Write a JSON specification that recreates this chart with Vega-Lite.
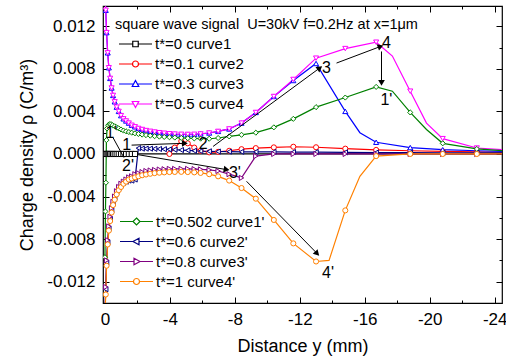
{
"$schema":"https://vega.github.io/schema/vega-lite/v6.json",
"width":399,"height":297,
"autosize":{"type":"none"},
"padding":{"left":103,"top":6,"right":4,"bottom":59},
"config":{"font":"Liberation Sans","view":{"stroke":"#000000","strokeWidth":1.2},
"axis":{"grid":false,"domain":false,"labelColor":"#000","titleColor":"#000","tickColor":"#000","tickWidth":1,"titleFontWeight":"normal"},
"legend":{"padding":0,"labelColor":"#000","titleColor":"#000","titleFontWeight":"normal","labelFontSize":15,"titleFontSize":14.5,"labelLimit":300,"titleLimit":420}},
"datasets":{
"curves":[
{"c":"t*=0 curve1","x":0,"y":0},{"c":"t*=0 curve1","x":-0.05,"y":0},{"c":"t*=0 curve1","x":-0.1,"y":0},{"c":"t*=0 curve1","x":-0.17,"y":0},{"c":"t*=0 curve1","x":-0.24,"y":0},{"c":"t*=0 curve1","x":-0.32,"y":0},{"c":"t*=0 curve1","x":-0.41,"y":0},{"c":"t*=0 curve1","x":-0.5,"y":0},{"c":"t*=0 curve1","x":-0.6,"y":0},{"c":"t*=0 curve1","x":-0.72,"y":0},{"c":"t*=0 curve1","x":-0.85,"y":0},{"c":"t*=0 curve1","x":-0.99,"y":0},{"c":"t*=0 curve1","x":-1.14,"y":0},{"c":"t*=0 curve1","x":-1.3,"y":0},{"c":"t*=0 curve1","x":-1.47,"y":0},{"c":"t*=0 curve1","x":-1.65,"y":0},{"c":"t*=0 curve1","x":-1.85,"y":0},{"c":"t*=0 curve1","x":-24.5,"y":0},
{"c":"t*=0.1 curve2","x":-3.97,"y":0},{"c":"t*=0.1 curve2","x":-4.3,"y":0.0006},{"c":"t*=0.1 curve2","x":-4.7,"y":0.0012},{"c":"t*=0.1 curve2","x":-5.1,"y":0.001},{"c":"t*=0.1 curve2","x":-5.5,"y":0.0006},{"c":"t*=0.1 curve2","x":-5.89,"y":0.0003},{"c":"t*=0.1 curve2","x":-6.42,"y":0.00015},{"c":"t*=0.1 curve2","x":-6.97,"y":0.0002},{"c":"t*=0.1 curve2","x":-7.65,"y":0.0003},{"c":"t*=0.1 curve2","x":-8.41,"y":0.00045},{"c":"t*=0.1 curve2","x":-9.29,"y":0.00055},{"c":"t*=0.1 curve2","x":-10.4,"y":0.00062},{"c":"t*=0.1 curve2","x":-11.6,"y":0.00068},{"c":"t*=0.1 curve2","x":-13.0,"y":0.00063},{"c":"t*=0.1 curve2","x":-14.8,"y":0.0005},{"c":"t*=0.1 curve2","x":-16.7,"y":0.00038},{"c":"t*=0.1 curve2","x":-18.8,"y":0.0003},{"c":"t*=0.1 curve2","x":-20.8,"y":0.00025},{"c":"t*=0.1 curve2","x":-22.9,"y":0.00019},{"c":"t*=0.1 curve2","x":-24.5,"y":0.00016},
{"c":"t*=0.3 curve3","x":0,"y":0.015},{"c":"t*=0.3 curve3","x":-0.05,"y":0.0135},{"c":"t*=0.3 curve3","x":-0.1,"y":0.0114},{"c":"t*=0.3 curve3","x":-0.17,"y":0.0095},{"c":"t*=0.3 curve3","x":-0.24,"y":0.0081},{"c":"t*=0.3 curve3","x":-0.32,"y":0.0071},{"c":"t*=0.3 curve3","x":-0.41,"y":0.0062},{"c":"t*=0.3 curve3","x":-0.5,"y":0.0055},{"c":"t*=0.3 curve3","x":-0.6,"y":0.0049},{"c":"t*=0.3 curve3","x":-0.72,"y":0.0044},{"c":"t*=0.3 curve3","x":-0.85,"y":0.004},{"c":"t*=0.3 curve3","x":-0.99,"y":0.0036},{"c":"t*=0.3 curve3","x":-1.14,"y":0.0033},{"c":"t*=0.3 curve3","x":-1.3,"y":0.0031},{"c":"t*=0.3 curve3","x":-1.47,"y":0.0029},{"c":"t*=0.3 curve3","x":-1.65,"y":0.0027},{"c":"t*=0.3 curve3","x":-1.85,"y":0.00255},{"c":"t*=0.3 curve3","x":-2.06,"y":0.0024},{"c":"t*=0.3 curve3","x":-2.29,"y":0.0023},{"c":"t*=0.3 curve3","x":-2.53,"y":0.0022},{"c":"t*=0.3 curve3","x":-2.79,"y":0.00213},{"c":"t*=0.3 curve3","x":-3.06,"y":0.00206},{"c":"t*=0.3 curve3","x":-3.35,"y":0.002},{"c":"t*=0.3 curve3","x":-3.65,"y":0.00195},{"c":"t*=0.3 curve3","x":-3.97,"y":0.0019},{"c":"t*=0.3 curve3","x":-4.3,"y":0.00187},{"c":"t*=0.3 curve3","x":-4.7,"y":0.00185},{"c":"t*=0.3 curve3","x":-5.1,"y":0.00184},{"c":"t*=0.3 curve3","x":-5.5,"y":0.00185},{"c":"t*=0.3 curve3","x":-5.89,"y":0.00188},{"c":"t*=0.3 curve3","x":-6.42,"y":0.00197},{"c":"t*=0.3 curve3","x":-6.97,"y":0.00212},{"c":"t*=0.3 curve3","x":-7.65,"y":0.00235},{"c":"t*=0.3 curve3","x":-8.41,"y":0.0029},{"c":"t*=0.3 curve3","x":-9.29,"y":0.0039},{"c":"t*=0.3 curve3","x":-10.4,"y":0.0054},{"c":"t*=0.3 curve3","x":-11.6,"y":0.0069},{"c":"t*=0.3 curve3","x":-13.0,"y":0.0085},{"c":"t*=0.3 curve3","x":-14.8,"y":0.004},{"c":"t*=0.3 curve3","x":-15.7,"y":0.002},{"c":"t*=0.3 curve3","x":-16.7,"y":0.0011},{"c":"t*=0.3 curve3","x":-18.8,"y":0.0006},{"c":"t*=0.3 curve3","x":-20.8,"y":0.0004},{"c":"t*=0.3 curve3","x":-22.9,"y":0.0003},{"c":"t*=0.3 curve3","x":-24.5,"y":0.00025},
{"c":"t*=0.5 curve4","x":0,"y":0.015},{"c":"t*=0.5 curve4","x":-0.05,"y":0.0135},{"c":"t*=0.5 curve4","x":-0.1,"y":0.0114},{"c":"t*=0.5 curve4","x":-0.17,"y":0.0095},{"c":"t*=0.5 curve4","x":-0.24,"y":0.0081},{"c":"t*=0.5 curve4","x":-0.32,"y":0.0071},{"c":"t*=0.5 curve4","x":-0.41,"y":0.0062},{"c":"t*=0.5 curve4","x":-0.5,"y":0.0055},{"c":"t*=0.5 curve4","x":-0.6,"y":0.0049},{"c":"t*=0.5 curve4","x":-0.72,"y":0.0044},{"c":"t*=0.5 curve4","x":-0.85,"y":0.004},{"c":"t*=0.5 curve4","x":-0.99,"y":0.0036},{"c":"t*=0.5 curve4","x":-1.14,"y":0.0033},{"c":"t*=0.5 curve4","x":-1.3,"y":0.0031},{"c":"t*=0.5 curve4","x":-1.47,"y":0.0029},{"c":"t*=0.5 curve4","x":-1.65,"y":0.0027},{"c":"t*=0.5 curve4","x":-1.85,"y":0.00255},{"c":"t*=0.5 curve4","x":-2.06,"y":0.0024},{"c":"t*=0.5 curve4","x":-2.29,"y":0.0023},{"c":"t*=0.5 curve4","x":-2.53,"y":0.0022},{"c":"t*=0.5 curve4","x":-2.79,"y":0.00213},{"c":"t*=0.5 curve4","x":-3.06,"y":0.00206},{"c":"t*=0.5 curve4","x":-3.35,"y":0.002},{"c":"t*=0.5 curve4","x":-3.65,"y":0.00195},{"c":"t*=0.5 curve4","x":-3.97,"y":0.0019},{"c":"t*=0.5 curve4","x":-4.3,"y":0.00187},{"c":"t*=0.5 curve4","x":-4.7,"y":0.00185},{"c":"t*=0.5 curve4","x":-5.1,"y":0.00184},{"c":"t*=0.5 curve4","x":-5.5,"y":0.00185},{"c":"t*=0.5 curve4","x":-5.89,"y":0.00188},{"c":"t*=0.5 curve4","x":-6.42,"y":0.00197},{"c":"t*=0.5 curve4","x":-6.97,"y":0.00212},{"c":"t*=0.5 curve4","x":-7.65,"y":0.00235},{"c":"t*=0.5 curve4","x":-8.41,"y":0.0029},{"c":"t*=0.5 curve4","x":-9.29,"y":0.0039},{"c":"t*=0.5 curve4","x":-10.4,"y":0.0054},{"c":"t*=0.5 curve4","x":-11.6,"y":0.007},{"c":"t*=0.5 curve4","x":-13.0,"y":0.009},{"c":"t*=0.5 curve4","x":-14.8,"y":0.0099},{"c":"t*=0.5 curve4","x":-16.7,"y":0.0105},{"c":"t*=0.5 curve4","x":-17.7,"y":0.0092},{"c":"t*=0.5 curve4","x":-18.8,"y":0.0059},{"c":"t*=0.5 curve4","x":-19.8,"y":0.0029},{"c":"t*=0.5 curve4","x":-20.8,"y":0.00144},{"c":"t*=0.5 curve4","x":-22.9,"y":0.00056},{"c":"t*=0.5 curve4","x":-24.5,"y":0.0004},
{"c":"t*=0.502 curve1'","x":0,"y":-0.0097},{"c":"t*=0.502 curve1'","x":-0.03,"y":-0.0054},{"c":"t*=0.502 curve1'","x":-0.06,"y":-0.0027},{"c":"t*=0.502 curve1'","x":-0.09,"y":0.0013},{"c":"t*=0.502 curve1'","x":-0.13,"y":0.0024},{"c":"t*=0.502 curve1'","x":-0.2,"y":0.0027},{"c":"t*=0.502 curve1'","x":-0.28,"y":0.0028},{"c":"t*=0.502 curve1'","x":-0.37,"y":0.0028},{"c":"t*=0.502 curve1'","x":-0.47,"y":0.0027},{"c":"t*=0.502 curve1'","x":-0.6,"y":0.0026},{"c":"t*=0.502 curve1'","x":-0.72,"y":0.0025},{"c":"t*=0.502 curve1'","x":-0.85,"y":0.0024},{"c":"t*=0.502 curve1'","x":-0.99,"y":0.0023},{"c":"t*=0.502 curve1'","x":-1.14,"y":0.0022},{"c":"t*=0.502 curve1'","x":-1.3,"y":0.00213},{"c":"t*=0.502 curve1'","x":-1.47,"y":0.00206},{"c":"t*=0.502 curve1'","x":-1.65,"y":0.002},{"c":"t*=0.502 curve1'","x":-1.85,"y":0.00194},{"c":"t*=0.502 curve1'","x":-2.06,"y":0.00188},{"c":"t*=0.502 curve1'","x":-2.29,"y":0.00182},{"c":"t*=0.502 curve1'","x":-2.53,"y":0.00177},{"c":"t*=0.502 curve1'","x":-2.79,"y":0.00172},{"c":"t*=0.502 curve1'","x":-3.06,"y":0.00167},{"c":"t*=0.502 curve1'","x":-3.35,"y":0.00163},{"c":"t*=0.502 curve1'","x":-3.65,"y":0.0016},{"c":"t*=0.502 curve1'","x":-3.97,"y":0.00157},{"c":"t*=0.502 curve1'","x":-4.3,"y":0.00154},{"c":"t*=0.502 curve1'","x":-4.7,"y":0.00151},{"c":"t*=0.502 curve1'","x":-5.1,"y":0.00148},{"c":"t*=0.502 curve1'","x":-5.5,"y":0.00146},{"c":"t*=0.502 curve1'","x":-5.89,"y":0.00144},{"c":"t*=0.502 curve1'","x":-6.42,"y":0.00143},{"c":"t*=0.502 curve1'","x":-6.97,"y":0.0015},{"c":"t*=0.502 curve1'","x":-7.65,"y":0.00165},{"c":"t*=0.502 curve1'","x":-8.41,"y":0.0018},{"c":"t*=0.502 curve1'","x":-9.29,"y":0.002},{"c":"t*=0.502 curve1'","x":-10.4,"y":0.0025},{"c":"t*=0.502 curve1'","x":-11.6,"y":0.0033},{"c":"t*=0.502 curve1'","x":-13.0,"y":0.0044},{"c":"t*=0.502 curve1'","x":-14.8,"y":0.0053},{"c":"t*=0.502 curve1'","x":-16.7,"y":0.0063},{"c":"t*=0.502 curve1'","x":-17.7,"y":0.0059},{"c":"t*=0.502 curve1'","x":-18.8,"y":0.0039},{"c":"t*=0.502 curve1'","x":-19.8,"y":0.0023},{"c":"t*=0.502 curve1'","x":-20.8,"y":0.001},{"c":"t*=0.502 curve1'","x":-22.9,"y":0.00047},{"c":"t*=0.502 curve1'","x":-24.5,"y":0.0003},
{"c":"t*=0.6 curve2'","x":0,"y":-0.015},{"c":"t*=0.6 curve2'","x":-0.05,"y":-0.0127},{"c":"t*=0.6 curve2'","x":-0.1,"y":-0.0102},{"c":"t*=0.6 curve2'","x":-0.17,"y":-0.0083},{"c":"t*=0.6 curve2'","x":-0.24,"y":-0.007},{"c":"t*=0.6 curve2'","x":-0.32,"y":-0.0061},{"c":"t*=0.6 curve2'","x":-0.41,"y":-0.0053},{"c":"t*=0.6 curve2'","x":-0.5,"y":-0.0046},{"c":"t*=0.6 curve2'","x":-0.6,"y":-0.0041},{"c":"t*=0.6 curve2'","x":-0.72,"y":-0.0036},{"c":"t*=0.6 curve2'","x":-0.85,"y":-0.0032},{"c":"t*=0.6 curve2'","x":-0.99,"y":-0.0029},{"c":"t*=0.6 curve2'","x":-1.14,"y":-0.0027},{"c":"t*=0.6 curve2'","x":-1.3,"y":-0.0026},{"c":"t*=0.6 curve2'","x":-1.47,"y":-0.0025},{"c":"t*=0.6 curve2'","x":-1.65,"y":-0.0025},{"c":"t*=0.6 curve2'","x":-1.85,"y":-0.0024},{"c":"t*=0.6 curve2'","x":-2.06,"y":0.00055},{"c":"t*=0.6 curve2'","x":-2.29,"y":0.0005},{"c":"t*=0.6 curve2'","x":-2.53,"y":0.0005},{"c":"t*=0.6 curve2'","x":-2.79,"y":0.0005},{"c":"t*=0.6 curve2'","x":-3.06,"y":0.00048},{"c":"t*=0.6 curve2'","x":-3.35,"y":0.00047},{"c":"t*=0.6 curve2'","x":-3.65,"y":0.00045},{"c":"t*=0.6 curve2'","x":-3.97,"y":0.00043},{"c":"t*=0.6 curve2'","x":-4.3,"y":0.0004},{"c":"t*=0.6 curve2'","x":-4.7,"y":0.00037},{"c":"t*=0.6 curve2'","x":-5.1,"y":0.00034},{"c":"t*=0.6 curve2'","x":-5.5,"y":0.0003},{"c":"t*=0.6 curve2'","x":-5.89,"y":0.00027},{"c":"t*=0.6 curve2'","x":-6.42,"y":0.00025},{"c":"t*=0.6 curve2'","x":-6.97,"y":0.00023},{"c":"t*=0.6 curve2'","x":-7.65,"y":0.00022},{"c":"t*=0.6 curve2'","x":-8.41,"y":0.0002},{"c":"t*=0.6 curve2'","x":-9.29,"y":0.0002},{"c":"t*=0.6 curve2'","x":-10.4,"y":0.00019},{"c":"t*=0.6 curve2'","x":-11.6,"y":0.00018},{"c":"t*=0.6 curve2'","x":-13.0,"y":0.00017},{"c":"t*=0.6 curve2'","x":-14.8,"y":0.00015},{"c":"t*=0.6 curve2'","x":-16.7,"y":0.00013},{"c":"t*=0.6 curve2'","x":-18.8,"y":0.00012},{"c":"t*=0.6 curve2'","x":-20.8,"y":0.0001},{"c":"t*=0.6 curve2'","x":-22.9,"y":0.0001},{"c":"t*=0.6 curve2'","x":-24.5,"y":0.0001},
{"c":"t*=0.8 curve3'","x":0,"y":-0.015},{"c":"t*=0.8 curve3'","x":-0.05,"y":-0.0125},{"c":"t*=0.8 curve3'","x":-0.1,"y":-0.01},{"c":"t*=0.8 curve3'","x":-0.17,"y":-0.0081},{"c":"t*=0.8 curve3'","x":-0.24,"y":-0.0068},{"c":"t*=0.8 curve3'","x":-0.32,"y":-0.0059},{"c":"t*=0.8 curve3'","x":-0.41,"y":-0.0051},{"c":"t*=0.8 curve3'","x":-0.5,"y":-0.0045},{"c":"t*=0.8 curve3'","x":-0.6,"y":-0.004},{"c":"t*=0.8 curve3'","x":-0.72,"y":-0.0035},{"c":"t*=0.8 curve3'","x":-0.85,"y":-0.0031},{"c":"t*=0.8 curve3'","x":-0.99,"y":-0.0028},{"c":"t*=0.8 curve3'","x":-1.14,"y":-0.0026},{"c":"t*=0.8 curve3'","x":-1.3,"y":-0.0024},{"c":"t*=0.8 curve3'","x":-1.47,"y":-0.0022},{"c":"t*=0.8 curve3'","x":-1.65,"y":-0.0021},{"c":"t*=0.8 curve3'","x":-1.85,"y":-0.0019},{"c":"t*=0.8 curve3'","x":-2.06,"y":-0.0018},{"c":"t*=0.8 curve3'","x":-2.29,"y":-0.0017},{"c":"t*=0.8 curve3'","x":-2.53,"y":-0.0016},{"c":"t*=0.8 curve3'","x":-2.79,"y":-0.00155},{"c":"t*=0.8 curve3'","x":-3.06,"y":-0.0015},{"c":"t*=0.8 curve3'","x":-3.35,"y":-0.00146},{"c":"t*=0.8 curve3'","x":-3.65,"y":-0.00143},{"c":"t*=0.8 curve3'","x":-3.97,"y":-0.0014},{"c":"t*=0.8 curve3'","x":-4.3,"y":-0.0014},{"c":"t*=0.8 curve3'","x":-4.7,"y":-0.0014},{"c":"t*=0.8 curve3'","x":-5.1,"y":-0.0014},{"c":"t*=0.8 curve3'","x":-5.5,"y":-0.00142},{"c":"t*=0.8 curve3'","x":-5.89,"y":-0.00145},{"c":"t*=0.8 curve3'","x":-6.42,"y":-0.0015},{"c":"t*=0.8 curve3'","x":-6.97,"y":-0.0016},{"c":"t*=0.8 curve3'","x":-7.65,"y":-0.0019},{"c":"t*=0.8 curve3'","x":-8.41,"y":-0.00225},{"c":"t*=0.8 curve3'","x":-9.29,"y":-0.0002},{"c":"t*=0.8 curve3'","x":-10.4,"y":0},{"c":"t*=0.8 curve3'","x":-11.6,"y":0},{"c":"t*=0.8 curve3'","x":-13.0,"y":0},{"c":"t*=0.8 curve3'","x":-14.8,"y":0},{"c":"t*=0.8 curve3'","x":-16.7,"y":0},{"c":"t*=0.8 curve3'","x":-18.8,"y":0},{"c":"t*=0.8 curve3'","x":-20.8,"y":0},{"c":"t*=0.8 curve3'","x":-22.9,"y":0},{"c":"t*=0.8 curve3'","x":-24.5,"y":0},
{"c":"t*=1 curve4'","x":0,"y":-0.015},{"c":"t*=1 curve4'","x":-0.05,"y":-0.0132},{"c":"t*=1 curve4'","x":-0.1,"y":-0.0105},{"c":"t*=1 curve4'","x":-0.17,"y":-0.0085},{"c":"t*=1 curve4'","x":-0.24,"y":-0.0072},{"c":"t*=1 curve4'","x":-0.32,"y":-0.0063},{"c":"t*=1 curve4'","x":-0.41,"y":-0.0055},{"c":"t*=1 curve4'","x":-0.5,"y":-0.0048},{"c":"t*=1 curve4'","x":-0.6,"y":-0.0043},{"c":"t*=1 curve4'","x":-0.72,"y":-0.0038},{"c":"t*=1 curve4'","x":-0.85,"y":-0.0034},{"c":"t*=1 curve4'","x":-0.99,"y":-0.0031},{"c":"t*=1 curve4'","x":-1.14,"y":-0.0028},{"c":"t*=1 curve4'","x":-1.3,"y":-0.0026},{"c":"t*=1 curve4'","x":-1.47,"y":-0.0024},{"c":"t*=1 curve4'","x":-1.65,"y":-0.0023},{"c":"t*=1 curve4'","x":-1.85,"y":-0.0022},{"c":"t*=1 curve4'","x":-2.06,"y":-0.0021},{"c":"t*=1 curve4'","x":-2.29,"y":-0.002},{"c":"t*=1 curve4'","x":-2.53,"y":-0.00193},{"c":"t*=1 curve4'","x":-2.79,"y":-0.00186},{"c":"t*=1 curve4'","x":-3.06,"y":-0.0018},{"c":"t*=1 curve4'","x":-3.35,"y":-0.00176},{"c":"t*=1 curve4'","x":-3.65,"y":-0.00173},{"c":"t*=1 curve4'","x":-3.97,"y":-0.0017},{"c":"t*=1 curve4'","x":-4.3,"y":-0.00169},{"c":"t*=1 curve4'","x":-4.7,"y":-0.00168},{"c":"t*=1 curve4'","x":-5.1,"y":-0.0017},{"c":"t*=1 curve4'","x":-5.5,"y":-0.00173},{"c":"t*=1 curve4'","x":-5.89,"y":-0.00178},{"c":"t*=1 curve4'","x":-6.42,"y":-0.0019},{"c":"t*=1 curve4'","x":-6.97,"y":-0.0021},{"c":"t*=1 curve4'","x":-7.65,"y":-0.0025},{"c":"t*=1 curve4'","x":-8.41,"y":-0.0032},{"c":"t*=1 curve4'","x":-9.29,"y":-0.0042},{"c":"t*=1 curve4'","x":-10.4,"y":-0.0062},{"c":"t*=1 curve4'","x":-11.6,"y":-0.0084},{"c":"t*=1 curve4'","x":-13.0,"y":-0.0101},{"c":"t*=1 curve4'","x":-13.8,"y":-0.01},{"c":"t*=1 curve4'","x":-14.8,"y":-0.0053},{"c":"t*=1 curve4'","x":-15.7,"y":-0.0021},{"c":"t*=1 curve4'","x":-16.7,"y":-0.0002},{"c":"t*=1 curve4'","x":-18.8,"y":0},{"c":"t*=1 curve4'","x":-20.8,"y":0},{"c":"t*=1 curve4'","x":-22.9,"y":0},{"c":"t*=1 curve4'","x":-24.5,"y":0}
],
"ann":[
{"t":"1","x":-1.34,"y":0.00087},{"t":"2","x":-6.05,"y":0.00095},{"t":"3","x":-13.64,"y":0.0081},{"t":"4","x":-17.33,"y":0.01042},{"t":"1'","x":-17.33,"y":0.0051},{"t":"1'","x":-0.4,"y":0.00195},{"t":"2'","x":-1.42,"y":-0.00115},{"t":"3'","x":-8.0,"y":-0.00178},{"t":"4'","x":-13.74,"y":-0.01117}
],
"arrows":[
{"x":-1.64,"y":0.00083,"x2":-4.92,"y2":0.001,"dir":-1},
{"x":-6.66,"y":0.00071,"x2":-13.23,"y2":0.00808,"dir":-36},
{"x":-14.26,"y":0.00854,"x2":-16.97,"y2":0.0101,"dir":-21},
{"x":-17.03,"y":0.00963,"x2":-17.03,"y2":0.00667,"dir":90},
{"x":-0.51,"y":0.0015,"x2":-1.17,"y2":-0.00034,"dir":null},
{"x":-2.05,"y":-0.00007,"x2":-7.49,"y2":-0.00147,"dir":10},
{"x":-8.72,"y":-0.00257,"x2":-13.07,"y2":-0.00936,"dir":46}
]
},
"layer":[
{"data":{"name":"curves"},
 "transform":[{"filter":{"field":"c","oneOf":["t*=0 curve1","t*=0.1 curve2","t*=0.3 curve3","t*=0.5 curve4"]}}],
 "encoding":{
  "x":{"field":"x","type":"quantitative","scale":{"domain":[-24.45,0.12],"reverse":true,"nice":false,"zero":false},"axis":null},
  "y":{"field":"y","type":"quantitative","scale":{"domain":[-0.014,0.0139],"nice":false,"zero":false},"axis":null},
  "stroke":{"field":"c","type":"nominal","sort":null,"scale":{"domain":["t*=0 curve1","t*=0.1 curve2","t*=0.3 curve3","t*=0.5 curve4"],"range":["#000000","#ff0000","#0000ff","#ff00ff"]},
   "legend":{"orient":"top-left","offset":12,"title":"square wave signal\u00a0 U=30kV f=0.2Hz at x=1μm","symbolSize":100,"symbolOffset":13,"labelOffset":12,"rowPadding":4,"titlePadding":4,"symbolStrokeWidth":1.2,"symbolOpacity":1}}
 },
 "layer":[
  {"mark":{"type":"line","strokeWidth":1.2,"clip":true}},
  {"transform":[{"filter":"datum.x == -24.5"}],
   "mark":{"type":"point","fill":"#ffffff","fillOpacity":1,"opacity":0,"strokeWidth":1.2,"clip":true},
   "encoding":{"shape":{"field":"c","type":"nominal","scale":{"domain":["t*=0 curve1","t*=0.1 curve2","t*=0.3 curve3","t*=0.5 curve4"],"range":["M-3.3,0H-0.55M0.55,0H3.3M-0.55,-0.55H0.55V0.55H-0.55Z","M-3.3,0H-0.6M0.6,0H3.3M-0.6,0A0.6,0.6,0,1,0,0.6,0A0.6,0.6,0,1,0,-0.6,0Z","M-3.3,0H-0.45M0.45,0H3.3M0,-0.7L0.65,0.5L-0.65,0.5Z","M-3.3,0H-0.45M0.45,0H3.3M0,0.7L0.65,-0.5L-0.65,-0.5Z"]},"legend":null}}}
 ]
},
{"data":{"name":"curves"},
 "transform":[{"filter":{"field":"c","oneOf":["t*=0.502 curve1'","t*=0.6 curve2'","t*=0.8 curve3'","t*=1 curve4'"]}}],
 "encoding":{
  "x":{"field":"x","type":"quantitative","scale":{"domain":[-24.45,0.12],"reverse":true,"nice":false,"zero":false},"axis":null},
  "y":{"field":"y","type":"quantitative","scale":{"domain":[-0.014,0.0139],"nice":false,"zero":false},"axis":null},
  "stroke":{"field":"c","type":"nominal","sort":null,"scale":{"domain":["t*=0.502 curve1'","t*=0.6 curve2'","t*=0.8 curve3'","t*=1 curve4'"],"range":["#008000","#000080","#800080","#ff8000"]},
   "legend":{"orient":"bottom-left","offset":13,"title":null,"symbolSize":100,"symbolOffset":13,"labelOffset":12,"rowPadding":4,"symbolStrokeWidth":1.2,"symbolOpacity":1}}
 },
 "layer":[
  {"mark":{"type":"line","strokeWidth":1.2,"clip":true}},
  {"transform":[{"filter":"datum.x == -24.5"}],
   "mark":{"type":"point","fill":"#ffffff","fillOpacity":1,"opacity":0,"strokeWidth":1.2,"clip":true},
   "encoding":{"shape":{"field":"c","type":"nominal","scale":{"domain":["t*=0.502 curve1'","t*=0.6 curve2'","t*=0.8 curve3'","t*=1 curve4'"],"range":["M-3.3,0H-0.7M0.7,0H3.3M0,-0.7L0.7,0L0,0.7L-0.7,0Z","M-3.3,0H-0.7M0.5,0H3.3M-0.7,0L0.5,-0.65L0.5,0.65Z","M-3.3,0H-0.5M0.7,0H3.3M0.7,0L-0.5,-0.65L-0.5,0.65Z","M-3.3,0H-0.6M0.6,0H3.3M-0.6,0A0.6,0.6,0,1,0,0.6,0A0.6,0.6,0,1,0,-0.6,0Z"]},"legend":null}}}
 ]
},
{"data":{"name":"curves"},
 "transform":[{"filter":{"field":"c","oneOf":["t*=0 curve1","t*=0.1 curve2","t*=0.3 curve3","t*=0.5 curve4"]}},{"filter":"indexof([-24.5,-17.7,-19.8,-13.8,-15.7], datum.x) < 0"}],
 "mark":{"type":"point","fill":"#ffffff","fillOpacity":1,"opacity":1,"strokeWidth":1,"size":26,"clip":true},
 "encoding":{
  "x":{"field":"x","type":"quantitative","scale":{"domain":[-24.45,0.12],"reverse":true,"nice":false,"zero":false},"axis":null},
  "y":{"field":"y","type":"quantitative","scale":{"domain":[-0.014,0.0139],"nice":false,"zero":false},"axis":null},
  "stroke":{"field":"c","type":"nominal","sort":null,"scale":{"domain":["t*=0 curve1","t*=0.1 curve2","t*=0.3 curve3","t*=0.5 curve4"],"range":["#000000","#ff0000","#0000ff","#ff00ff"]},"legend":null},
  "shape":{"field":"c","type":"nominal","scale":{"domain":["t*=0 curve1","t*=0.1 curve2","t*=0.3 curve3","t*=0.5 curve4"],"range":["square","circle","triangle-up","triangle-down"]},"legend":null}}
},
{"data":{"name":"curves"},
 "transform":[{"filter":{"field":"c","oneOf":["t*=0.502 curve1'","t*=0.6 curve2'","t*=0.8 curve3'","t*=1 curve4'"]}},{"filter":"indexof([-24.5,-17.7,-19.8,-13.8,-15.7], datum.x) < 0"}],
 "mark":{"type":"point","fill":"#ffffff","fillOpacity":1,"opacity":1,"strokeWidth":1,"size":26,"clip":true},
 "encoding":{
  "x":{"field":"x","type":"quantitative","scale":{"domain":[-24.45,0.12],"reverse":true,"nice":false,"zero":false},"axis":null},
  "y":{"field":"y","type":"quantitative","scale":{"domain":[-0.014,0.0139],"nice":false,"zero":false},"axis":null},
  "stroke":{"field":"c","type":"nominal","sort":null,"scale":{"domain":["t*=0.502 curve1'","t*=0.6 curve2'","t*=0.8 curve3'","t*=1 curve4'"],"range":["#008000","#000080","#800080","#ff8000"]},"legend":null},
  "shape":{"field":"c","type":"nominal","scale":{"domain":["t*=0.502 curve1'","t*=0.6 curve2'","t*=0.8 curve3'","t*=1 curve4'"],"range":["diamond","triangle-left","triangle-right","circle"]},"legend":null}}
},
{"data":{"name":"arrows"},
 "mark":{"type":"rule","color":"#000000","strokeWidth":1},
 "encoding":{
  "x":{"field":"x","type":"quantitative","scale":{"domain":[-24.45,0.12],"reverse":true,"nice":false,"zero":false},"axis":null},
  "y":{"field":"y","type":"quantitative","scale":{"domain":[-0.014,0.0139],"nice":false,"zero":false},"axis":null},
  "x2":{"field":"x2"},"y2":{"field":"y2"}}},
{"data":{"name":"arrows"},
 "transform":[{"filter":"datum.dir != null"}],
 "mark":{"type":"point","shape":"triangle-right","filled":true,"color":"#000000","opacity":1,"size":45},
 "encoding":{
  "x":{"field":"x2","type":"quantitative","scale":{"domain":[-24.45,0.12],"reverse":true,"nice":false,"zero":false},"axis":null},
  "y":{"field":"y2","type":"quantitative","scale":{"domain":[-0.014,0.0139],"nice":false,"zero":false},"axis":null},
  "angle":{"field":"dir","type":"quantitative","scale":null}}},
{"data":{"name":"ann"},
 "mark":{"type":"text","fontSize":16,"color":"#000000","align":"center","baseline":"middle"},
 "encoding":{
  "x":{"field":"x","type":"quantitative","scale":{"domain":[-24.45,0.12],"reverse":true,"nice":false,"zero":false},"axis":null},
  "y":{"field":"y","type":"quantitative","scale":{"domain":[-0.014,0.0139],"nice":false,"zero":false},"axis":null},
  "text":{"field":"t"}}},
{"data":{"name":"ann"},
 "mark":{"type":"point","opacity":0},
 "encoding":{
  "x":{"field":"x","type":"quantitative","scale":{"domain":[-24.45,0.12],"reverse":true,"nice":false,"zero":false},
   "axis":{"orient":"bottom","values":[0,-4,-8,-12,-16,-20,-24],"ticks":false,"labelExpr":"replace(format(datum.value,'d'),'\u2212','-')","labelFontSize":17,"labelPadding":8,"title":"Distance y (mm)","titleFontSize":18,"titlePadding":10}},
  "y":{"field":"y","type":"quantitative","scale":{"domain":[-0.014,0.0139],"nice":false,"zero":false},
   "axis":{"orient":"left","values":[-0.012,-0.008,-0.004,0,0.004,0.008,0.012],"ticks":false,"labelExpr":"replace(format(datum.value,'.3f'),'\u2212','-')","labelFontSize":17,"labelPadding":8,"title":"Charge density ρ (C/m³)","titleFontSize":18,"titlePadding":10}}}},
{"data":{"name":"ann"},
 "mark":{"type":"point","opacity":0},
 "encoding":{
  "x":{"field":"x","type":"quantitative","scale":{"domain":[-24.45,0.12],"reverse":true,"nice":false,"zero":false},
   "axis":{"orient":"bottom","values":[0,-4,-8,-12,-16,-20,-24],"labels":false,"tickSize":-6,"title":null}},
  "y":{"field":"y","type":"quantitative","scale":{"domain":[-0.014,0.0139],"nice":false,"zero":false},
   "axis":{"orient":"left","values":[-0.012,-0.008,-0.004,0,0.004,0.008,0.012],"labels":false,"tickSize":-6,"title":null}}}},
{"data":{"name":"ann"},
 "mark":{"type":"point","opacity":0},
 "encoding":{
  "x":{"field":"x","type":"quantitative","scale":{"domain":[-24.45,0.12],"reverse":true,"nice":false,"zero":false},
   "axis":{"orient":"bottom","values":[-2,-6,-10,-14,-18,-22],"labels":false,"tickSize":-3,"title":null}},
  "y":{"field":"y","type":"quantitative","scale":{"domain":[-0.014,0.0139],"nice":false,"zero":false},
   "axis":{"orient":"left","values":[-0.01,-0.006,-0.002,0.002,0.006,0.01],"labels":false,"tickSize":-3,"title":null}}}},
{"data":{"name":"ann"},
 "mark":{"type":"point","opacity":0},
 "encoding":{
  "x":{"field":"x","type":"quantitative","scale":{"domain":[-24.45,0.12],"reverse":true,"nice":false,"zero":false},
   "axis":{"orient":"top","values":[0,-4,-8,-12,-16,-20,-24],"labels":false,"tickSize":-6,"title":null}},
  "y":{"field":"y","type":"quantitative","scale":{"domain":[-0.014,0.0139],"nice":false,"zero":false},
   "axis":{"orient":"right","values":[-0.012,-0.008,-0.004,0,0.004,0.008,0.012],"labels":false,"tickSize":-6,"title":null}}}},
{"data":{"name":"ann"},
 "mark":{"type":"point","opacity":0},
 "encoding":{
  "x":{"field":"x","type":"quantitative","scale":{"domain":[-24.45,0.12],"reverse":true,"nice":false,"zero":false},
   "axis":{"orient":"top","values":[-2,-6,-10,-14,-18,-22],"labels":false,"tickSize":-3,"title":null}},
  "y":{"field":"y","type":"quantitative","scale":{"domain":[-0.014,0.0139],"nice":false,"zero":false},
   "axis":{"orient":"right","values":[-0.01,-0.006,-0.002,0.002,0.006,0.01],"labels":false,"tickSize":-3,"title":null}}}}
],
"resolve":{"scale":{"stroke":"independent","shape":"independent"},"axis":{"x":"independent","y":"independent"}}
}
